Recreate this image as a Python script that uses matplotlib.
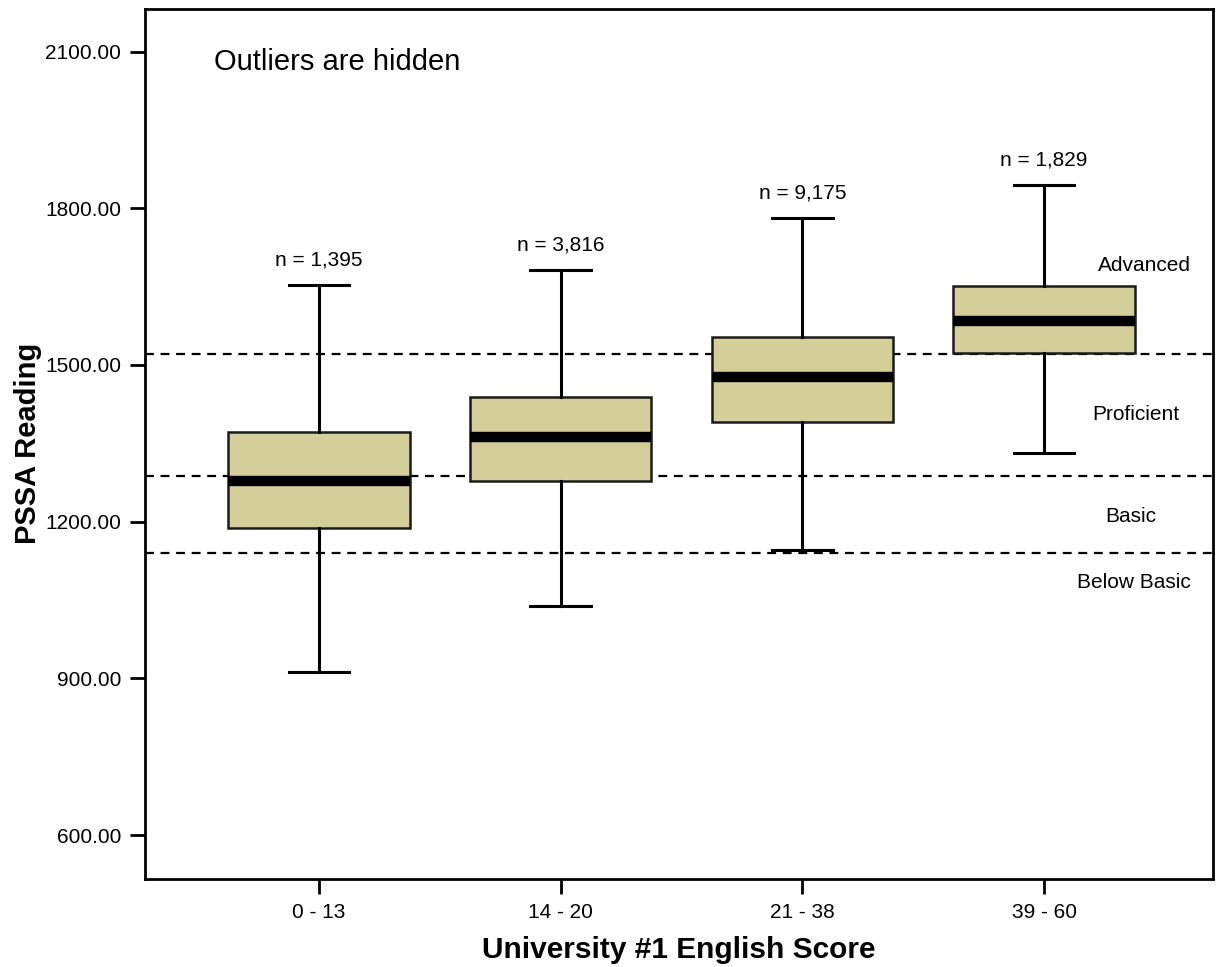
import matplotlib
matplotlib.use("Agg")
from matplotlib import pyplot as plt

plt.rcParams['font.family'] = ['Liberation Sans', 'DejaVu Sans']

groups = ['0 - 13', '14 - 20', '21 - 38', '39 - 60']
counts = ['n = 1,395', 'n = 3,816', 'n = 9,175', 'n = 1,829']
whislo = [912, 1039, 1146, 1332]
q1 = [1188, 1278, 1391, 1523]
med = [1278, 1362, 1477, 1585]
q3 = [1372, 1439, 1554, 1652]
whishi = [1654, 1682, 1782, 1845]

cuts = [1521, 1288, 1140]
levels = ['Advanced', 'Proficient', 'Basic', 'Below Basic']
level_x = [3.414, 3.38, 3.36, 3.37]
level_y = [1690, 1405, 1210, 1084]

stats = []
for i in range(len(groups)):
    stats.append(dict(label=groups[i], whislo=whislo[i], q1=q1[i], med=med[i],
                      q3=q3[i], whishi=whishi[i], fliers=[]))

fig = plt.figure(figsize=(12.17, 9.67), dpi=100)
ax = fig.add_axes([0.119, 0.091, 0.878, 0.9])

for c in cuts:
    ax.axhline(c, color='black', lw=1.6, ls=(0, (4, 3)), zorder=1)

pos = list(range(len(groups)))
ax.bxp(stats, positions=pos, widths=0.75, capwidths=0.25, patch_artist=True,
       showfliers=False,
       boxprops=dict(facecolor='#d4cf98', edgecolor='#1a1a1a', lw=1.8),
       medianprops=dict(color='black', lw=7.5, solid_capstyle='butt'),
       whiskerprops=dict(color='black', lw=2.2),
       capprops=dict(color='black', lw=2.2),
       zorder=2)

for i in range(len(groups)):
    ax.annotate(counts[i], (pos[i], whishi[i]), xytext=(0, 11), textcoords='offset points',
                ha='center', va='bottom', fontsize=15)

for name, x, y in zip(levels, level_x, level_y):
    ax.text(x, y, name, ha='center', va='center', fontsize=15)

ax.text(-0.435, 2080, 'Outliers are hidden', fontsize=21, ha='left', va='center')

ax.set_xlim(-0.72, 3.70)
ax.set_ylim(516, 2182)
ax.set_yticks([600, 900, 1200, 1500, 1800, 2100])
ax.set_yticklabels(['%.2f' % v for v in [600, 900, 1200, 1500, 1800, 2100]])
ax.set_xticks(pos)
ax.set_xticklabels(groups)
ax.tick_params(labelsize=15, length=11, width=2, pad=6)

for s in ax.spines.values():
    s.set_linewidth(2)

ax.set_ylabel('PSSA Reading', fontsize=21, fontweight='bold', labelpad=2)
ax.set_xlabel('University #1 English Score', fontsize=21.5, fontweight='bold', labelpad=10)

fig.savefig('out.png', dpi=100)
